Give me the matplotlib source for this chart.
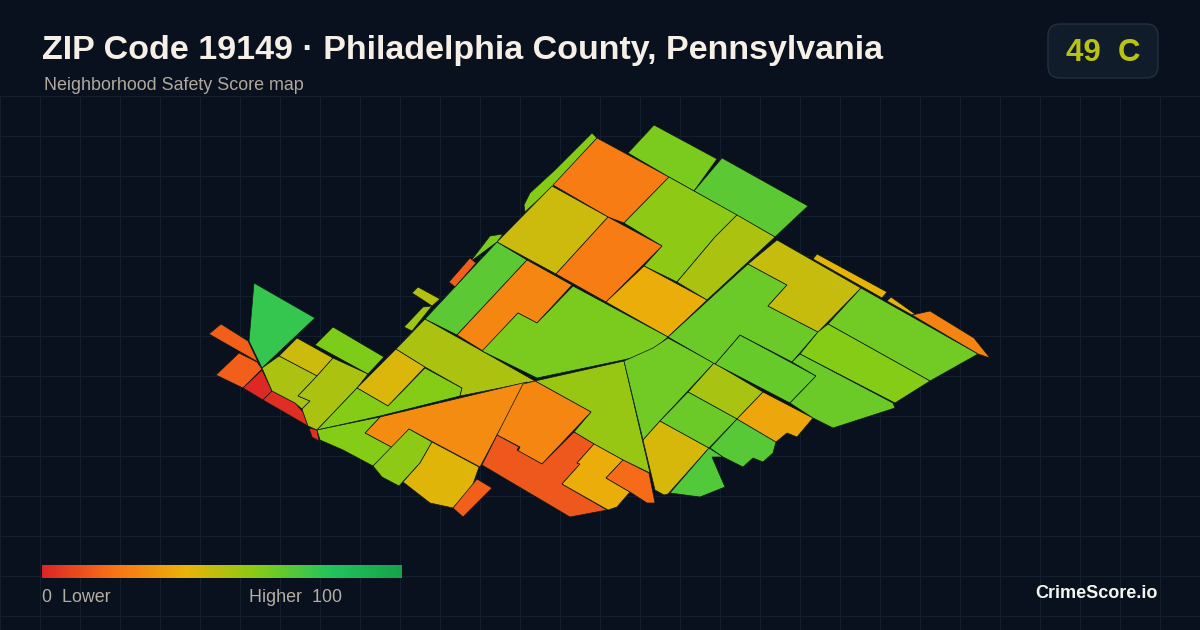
import numpy as np
import matplotlib
matplotlib.use("Agg")
import matplotlib.pyplot as plt
from matplotlib.colors import LinearSegmentedColormap
from matplotlib.patches import Polygon, FancyBboxPatch

plt.rcParams['font.family'] = ['Liberation Sans', 'DejaVu Sans']

title = "ZIP Code 19149 · Philadelphia County, Pennsylvania"
subtitle = "Neighborhood Safety Score map"
badge_score = 49
badge_grade = "C"
brand = "CrimeScore.io"

# score stops of the legend ramp
ramp_stops = [0.0, 0.2, 0.4, 0.6, 0.8, 1.0]
ramp_colors = ["#dc2626", "#f97316", "#eab308", "#84cc16", "#22c55e", "#16a34a"]

# block group outlines (image pixels)
tract_outlines = [
    [(254,283),(315,318),(262,368),(249,341)],
    [(209,334),(221,324),(248,341),(258,362)],
    [(239,353),(257,362),(262,369),(243,388),(216,375)],
    [(262,370),(272,391),(263,400),(243,388)],
    [(272,391),(295,403),(303,412),(308,426),(263,400)],
    [(309,428),(317,430),(319,441),(312,437)],
    [(279,356),(297,338),(333,358),(317,376)],
    [(262,368),(279,356),(317,376),(298,396),(310,401),(302,409),(295,403),(272,391)],
    [(333,358),(368,374),(357,388),(317,430),(308,426),(303,412),(302,409),(310,401),(298,396),(317,376)],
    [(315,345),(333,327),(384,357),(368,374)],
    [(396,349),(425,367),(388,406),(357,388)],
    [(357,388),(388,406),(425,368),(462,388),(460,396),(380,416),(317,430)],
    [(425,319),(482,351),(535,381),(460,396),(462,388),(425,367),(396,349)],
    [(527,382),(497,435),(480,467),(433,442),(409,429),(393,448),(365,433),(380,417)],
    [(317,430),(380,417),(365,433),(393,448),(373,466),(343,450),(320,440)],
    [(409,429),(432,442),(420,463),(399,486),(382,477),(373,466)],
    [(432,442),(479,467),(472,487),(453,508),(430,503),(403,482),(420,463)],
    [(477,479),(492,488),(463,517),(453,508)],
    [(592,133),(597,138),(553,186),(525,212),(524,205),(530,193),(555,170)],
    [(597,138),(669,177),(624,223),(608,217),(553,185)],
    [(654,125),(717,159),(694,191),(669,177),(628,153)],
    [(722,158),(808,206),(775,237),(694,191)],
    [(669,177),(694,191),(737,215),(715,237),(677,282),(644,266),(662,246),(624,223)],
    [(737,215),(775,237),(707,300),(677,282),(715,237)],
    [(552,186),(608,217),(556,274),(497,242)],
    [(608,217),(662,246),(606,302),(556,274)],
    [(644,266),(707,300),(668,337),(606,302)],
    [(497,242),(527,260),(457,335),(425,319)],
    [(503,234),(490,236),(470,262),(497,242)],
    [(449,282),(470,258),(476,263),(455,287)],
    [(412,293),(418,287),(440,299),(432,306),(423,300)],
    [(404,327),(423,307),(432,306),(412,331)],
    [(527,260),(572,285),(537,323),(518,313),(483,351),(457,335)],
    [(573,286),(668,337),(653,350),(640,356),(623,360),(537,378),(482,351),(518,313),(537,323)],
    [(535,381),(624,361),(650,473),(623,460),(594,444),(574,432),(591,412)],
    [(535,381),(591,412),(542,464),(518,451),(520,447),(497,435),(523,384)],
    [(497,435),(519,447),(517,450),(542,464),(574,432),(594,444),(577,463),(580,464),(562,484),(607,510),(570,517),(482,465)],
    [(594,444),(623,460),(606,478),(630,492),(617,507),(608,510),(562,484),(580,464),(577,463)],
    [(623,460),(649,473),(655,503),(647,503),(630,492),(606,478)],
    [(624,361),(653,348),(668,338),(714,363),(660,421),(643,440)],
    [(643,440),(660,421),(709,448),(668,494),(664,495),(655,490)],
    [(709,448),(723,457),(712,457),(725,487),(700,497),(670,493)],
    [(714,363),(763,392),(737,419),(688,392)],
    [(688,392),(737,419),(709,448),(660,421)],
    [(737,419),(776,442),(773,453),(763,462),(753,458),(743,467),(723,457),(710,448)],
    [(763,392),(813,418),(797,437),(787,433),(776,442),(737,419)],
    [(740,335),(816,376),(790,403),(715,364)],
    [(748,264),(787,285),(768,306),(818,332),(792,362),(740,335),(715,364),(668,337)],
    [(777,240),(861,288),(818,332),(768,306),(787,285),(748,264)],
    [(817,254),(887,292),(882,298),(813,259)],
    [(891,297),(915,314),(912,315),(887,301)],
    [(912,315),(930,311),(974,338),(990,358),(978,354)],
    [(861,288),(978,354),(930,381),(828,324)],
    [(828,324),(930,381),(895,403),(800,354),(818,332)],
    [(800,354),(893,403),(895,408),(833,428),(813,418),(790,403),(816,376),(792,362)],
]
tract_scores = [
    76, 15, 15, 1, 2, 3, 46, 52, 52, 61, 43, 60, 52, 28, 60, 58, 42, 15, 60, 23,
    62, 68, 58, 52, 46, 23, 38, 68, 62, 15, 50, 55, 26, 62, 56, 26, 13, 38, 18, 64,
    44, 70, 53, 65, 69, 36, 66, 65, 47, 41, 40, 25, 64, 60, 65,
]

score_cmap = LinearSegmentedColormap.from_list("safety", list(zip(ramp_stops, ramp_colors)))

fig = plt.figure(figsize=(12, 6.3), dpi=100, facecolor="#0a111e")
ax = fig.add_axes([0, 0, 1, 1])
ax.set_xlim(0, 1200)
ax.set_ylim(630, 0)
ax.axis("off")

# background grid, only below the header
for x in range(0, 1201, 40):
    ax.plot([x, x], [96, 630], color="#141f2d", lw=0.8, zorder=1)
for y in range(96, 631, 40):
    ax.plot([0, 1200], [y, y], color="#141f2d", lw=0.8, zorder=1)

for outline, score in zip(tract_outlines, tract_scores):
    ax.add_patch(Polygon(outline, closed=True, facecolor=score_cmap(score / 100),
                         edgecolor="#0b1a14", linewidth=0.5, zorder=2))

# header
ax.text(42, 51, title, fontsize=24.45, fontweight="bold", color="#f6efe6", va="center", zorder=3)
ax.text(44, 86, subtitle, fontsize=12.9, color="#b0a99c", va="center", zorder=3)

ax.add_patch(FancyBboxPatch((1048, 24), 110, 54, boxstyle="round,pad=0,rounding_size=12",
                            facecolor="#111c2a", edgecolor="#223040", linewidth=1, zorder=3))
ax.text(1103, 53, f"{badge_score}  {badge_grade}", fontsize=22.5, fontweight="bold", color="#b9c314",
        ha="center", va="center", zorder=4)

# legend ramp
ramp = np.linspace(0, 1, 256).reshape(1, -1)
ax.imshow(ramp, cmap=score_cmap, extent=(42, 402, 578, 565), aspect="auto", zorder=3)
ax.set_xlim(0, 1200)
ax.set_ylim(630, 0)
ax.text(42, 597, "0  Lower", fontsize=12.85, color="#b3aea3", va="center", zorder=3)
ax.text(249, 597, "Higher  100", fontsize=12.85, color="#b3aea3", va="center", zorder=3)

ax.text(1158, 593, brand, fontsize=13, fontweight="bold", color="#f5f5f0", ha="right", va="center", zorder=3)

fig.savefig("out.png", dpi=100, facecolor=fig.get_facecolor())
